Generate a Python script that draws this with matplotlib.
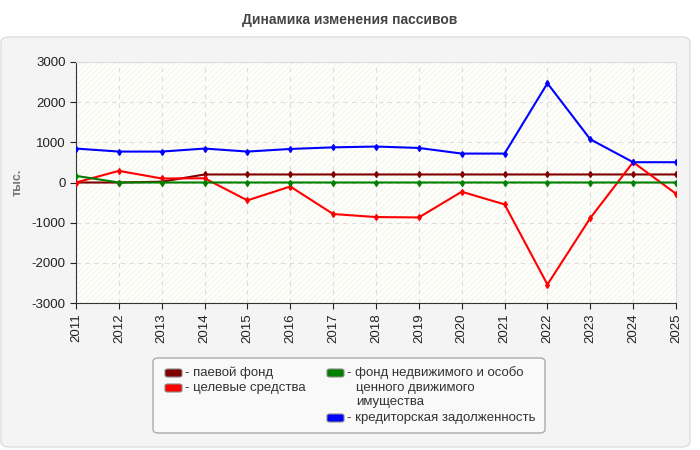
import numpy as np
import matplotlib
matplotlib.use('Agg')
import matplotlib.pyplot as plt
from matplotlib.patches import Rectangle, FancyBboxPatch

# data
years = list(range(2011, 2026))
paevoy = [0, 0, 20, 200, 200, 200, 200, 200, 200, 200, 200, 200, 200, 200, 200]
tselevye = [0, 290, 100, 105, -445, -100, -785, -860, -870, -230, -545, -2540, -885, 505, -280]
fond = [165, 0, 0, 0, 0, 0, 0, 0, 0, 0, 0, 0, 0, 0, 0]
kredit = [845, 770, 770, 845, 770, 835, 875, 895, 860, 720, 720, 2470, 1075, 505, 505]

names = ['паевой фонд', 'целевые средства',
         'фонд недвижимого и особо\nценного движимого\nимущества',
         'кредиторская задолженность']
colors = ['#800000', '#ff0000', '#008000', '#0000ff']

plt.rcParams['font.family'] = ['Liberation Sans', 'DejaVu Sans']
plt.rcParams['hatch.linewidth'] = 0.5
plt.rcParams['axes.unicode_minus'] = False

W, H = 700, 450
fig = plt.figure(figsize=(7, 4.5), dpi=100)
fig.patch.set_facecolor('white')


def fx(px):
    return px / W


def fy(py):
    return 1 - py / H


# grey rounded panel behind the chart
panel = FancyBboxPatch((fx(1), fy(447)), fx(689), 410 / H,
                       boxstyle='round,pad=0,rounding_size=0.012',
                       transform=fig.transFigure, facecolor='#f4f4f4', edgecolor='#dddddd',
                       linewidth=1, zorder=-10)
fig.patches.append(panel)

fig.text(0.5, fy(20), 'Динамика изменения пассивов', ha='center', va='center',
         fontsize=10, fontweight='bold', color='#444444')

ax = fig.add_axes([fx(76), fy(303), fx(600), 241 / H])
ax.set_zorder(1)
ax.set_facecolor('#fffffa')
ax.add_patch(Rectangle((0, 0), 1, 1, transform=ax.transAxes, facecolor='none',
                       edgecolor='#eeeeee', hatch='//////', linewidth=0, zorder=0))

for vals, c in zip([paevoy, tselevye, fond, kredit], colors):
    ax.plot(years, vals, color=c, linewidth=1.5, marker='d', markersize=3, zorder=3)

ax.set_xlim(2011, 2025)
ax.set_ylim(-3000, 3000)
ax.set_xticks(years)
ax.set_xticklabels([str(y) for y in years], rotation=90)
ax.set_yticks(range(-3000, 3001, 1000))
ax.tick_params(labelsize=9.5, colors='#222222', length=4)
ax.grid(True, color='#dddddd', linestyle=(0, (4, 4)), linewidth=0.8)
ax.set_axisbelow(True)
for s in ['top', 'right']:
    ax.spines[s].set_color('#dddddd')
for s in ['left', 'bottom']:
    ax.spines[s].set_color('#333333')
fig.text(fx(18), fy(182), 'тыс.', rotation=90, ha='center', va='center',
         fontsize=9, fontweight='bold', color='#777777')

# legend box drawn by hand to keep the reference layout
box = FancyBboxPatch((fx(153), fy(433)), fx(392), 75 / H,
                     boxstyle='round,pad=0,rounding_size=0.008',
                     transform=fig.transFigure, facecolor='#f9f9f9', edgecolor='#aaaaaa',
                     linewidth=1, zorder=2)
fig.patches.append(box)

entries = [(165, 373), (165, 388), (327, 373), (327, 418)]
for (x0, y0), c, name in zip(entries, colors, names):
    sw = FancyBboxPatch((fx(x0), fy(y0 + 4)), fx(17), 8 / H,
                        boxstyle='round,pad=0,rounding_size=0.004',
                        transform=fig.transFigure, facecolor=c, edgecolor='#888888',
                        linewidth=0.8, zorder=3)
    fig.patches.append(sw)
    lines = name.split('\n')
    fig.text(fx(x0 + 20), fy(y0), '- ' + lines[0], ha='left', va='center',
             fontsize=9.5, color='#333333', zorder=4)
    for k, ln in enumerate(lines[1:], start=1):
        fig.text(fx(x0 + 29), fy(y0 + 14.5 * k), ln, ha='left', va='center',
                 fontsize=9.5, color='#333333', zorder=4)

fig.savefig('out.png', dpi=100, facecolor=fig.get_facecolor())
